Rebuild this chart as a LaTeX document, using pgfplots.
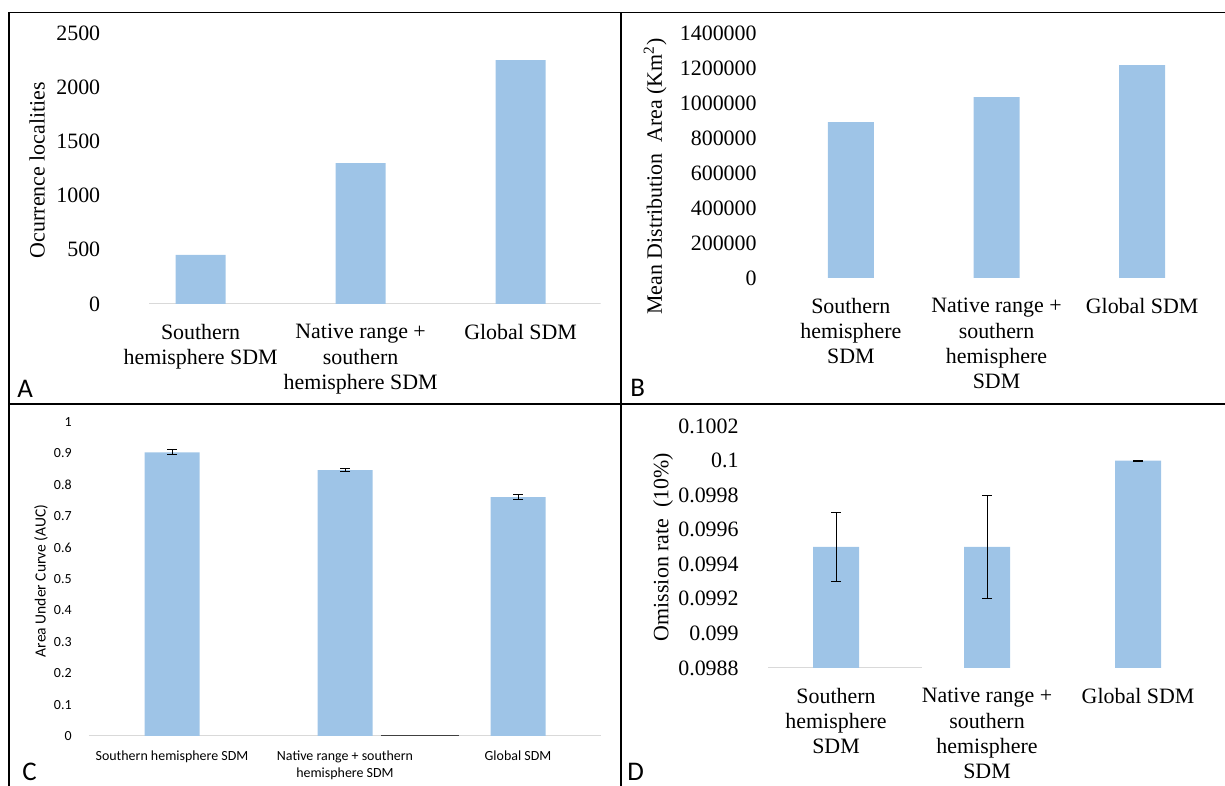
\documentclass[border=0pt]{standalone}
\usepackage{fontspec}
\setmainfont{Liberation Serif}
\newfontfamily\timesf{Liberation Serif}
\newfontfamily\calibri{Carlito}
\usepackage{pgfplots}
\pgfplotsset{compat=1.18}
\definecolor{barblue}{RGB}{158,196,231}
\definecolor{basegray}{RGB}{217,217,217}
\pgfplotsset{
  panel/.style={
    scale only axis,
    ybar,
    xmin=-0.5, xmax=2.5,
    xtick={0,1,2},
    axis line style={draw=none},
    major tick length=0pt,
    tick style={draw=none},
    scaled y ticks=false,
    /pgf/number format/assume math mode=true,
    /pgf/number format/1000 sep={},
    yticklabel style={/pgf/number format/fixed,/pgf/number format/precision=4},
    xticklabel style={align=center, anchor=north, inner sep=0pt},
    yticklabel style={anchor=east, inner sep=0pt},
  },
  times/.style={
    ticklabel style={font=\timesf\fontsize{11}{12.6}\selectfont},
    label style={font=\timesf\fontsize{11}{12.6}\selectfont},
    xticklabel style={yshift=-10bp},
  },
}
\begin{document}
\begin{tikzpicture}
\useasboundingbox (0,0) rectangle (612.5bp,393bp);
% frame
\draw[line width=0.75bp] (4.5bp,0) -- (4.5bp,386.85bp) -- (612.5bp,386.85bp);
\draw[line width=0.75bp] (310.5bp,0) -- (310.5bp,386.85bp);
\draw[line width=0.75bp] (4.5bp,191bp) -- (612.5bp,191bp);

% Panel A
\begin{axis}[panel, times,
  at={(60.3bp,241bp)}, anchor=south west,
  width=240bp, height=135.5bp,
  ymin=0, ymax=2500, ytick={0,500,1000,1500,2000,2500},
  yticklabels={0,500,1000,1500,2000,2500},
  bar width=25bp,
  yticklabel style={xshift=-10bp},
  ylabel={Ocurrence localities},
  ylabel style={at={(axis description cs:-0.174,0.494)}, anchor=center},
  xticklabels={{Southern\\hemisphere SDM},{Native range +\\southern\\hemisphere SDM},{Global SDM}},
]
\draw[basegray, line width=0.6bp] (axis cs:-0.32,0) -- (axis cs:2.5,0);
\addplot[fill=barblue, draw=none] coordinates {(0,452) (1,1300) (2,2250)};
\end{axis}

% Panel B
\begin{axis}[panel, times,
  at={(389bp,254bp)}, anchor=south west,
  width=218.5bp, height=122.5bp,
  ymin=0, ymax=1400000, ytick={0,200000,400000,600000,800000,1000000,1200000,1400000},
  yticklabels={0,200000,400000,600000,800000,1000000,1200000,1400000},
  bar width=23bp,
  yticklabel style={xshift=-10.5bp},
  ylabel={Mean Distribution\ \ Area (Km\textsuperscript{2})},
  ylabel style={at={(axis description cs:-0.281,0.414)}, anchor=center},
  xticklabels={{Southern\\hemisphere\\SDM},{Native range +\\southern\\hemisphere\\SDM},{Global SDM}},
]
\addplot[fill=barblue, draw=none] coordinates {(0,891000) (1,1034000) (2,1217000)};
\end{axis}

% Panel C
\begin{axis}[panel,
  at={(42.75bp,25bp)}, anchor=south west,
  width=259.5bp, height=157bp,
  ymin=0, ymax=1, ytick={0,0.1,0.2,0.3,0.4,0.5,0.6,0.7,0.8,0.9,1},
  yticklabels={0,0.1,0.2,0.3,0.4,0.5,0.6,0.7,0.8,0.9,1},
  bar width=27.5bp,
  ticklabel style={font=\calibri\fontsize{7}{8.5}\selectfont},
  label style={font=\calibri\fontsize{7.8}{9}\selectfont},
  yticklabel style={xshift=-6.75bp},
  xticklabel style={yshift=-7bp},
  ylabel={Area Under Curve (AUC)},
  ylabel style={at={(axis description cs:-0.0857,0.494)}, anchor=center},
  xticklabels={{Southern hemisphere SDM},{Native range + southern\\hemisphere SDM},{Global SDM}},
]
\draw[basegray, line width=0.6bp] (axis cs:-0.48,0) -- (axis cs:2.48,0);
\draw[black!75, line width=0.6bp] (axis cs:1.21,0) -- (axis cs:1.66,0);
\addplot[fill=barblue, draw=none,
  error bars/.cd, y dir=both, y explicit,
  error bar style={black, line width=0.5bp},
  error mark options={rotate=90, mark size=2.5bp, black, line width=0.5bp}]
  coordinates {(0,0.903) +- (0,0.008) (1,0.847) +- (0,0.004) (2,0.761) +- (0,0.007)};
\end{axis}

% Panel D
\begin{axis}[panel, times,
  at={(380.25bp,59bp)}, anchor=south west,
  width=226.5bp, height=121bp,
  ymin=0.0988, ymax=0.1002,
  ytick={0.0988,0.099,0.0992,0.0994,0.0996,0.0998,0.1,0.1002},
  yticklabels={0.0988,0.099,0.0992,0.0994,0.0996,0.0998,0.1,0.1002},
  bar width=23bp,
  yticklabel style={xshift=-10.75bp},
  ylabel={Omission rate\ \ (10\%)},
  ylabel style={at={(axis description cs:-0.215,0.5)}, anchor=center},
  xticklabels={{Southern\\hemisphere\\SDM},{Native range +\\southern\\hemisphere\\SDM},{Global SDM}},
]
\draw[basegray, line width=0.6bp] (axis cs:-0.45,0.0988) -- (axis cs:0.57,0.0988);
\addplot[fill=barblue, draw=none,
  error bars/.cd, y dir=both, y explicit,
  error bar style={black, line width=0.5bp},
  error mark options={rotate=90, mark size=2.5bp, black, line width=0.5bp}]
  coordinates {(0,0.0995) +- (0,0.0002) (1,0.0995) +- (0,0.0003) (2,0.1) +- (0,0.000003)};
\end{axis}

% panel letters
\node[anchor=base west, inner sep=0pt, font=\calibri\fontsize{13.5}{14}\selectfont] at (8.5bp,194bp) {A};
\node[anchor=base west, inner sep=0pt, font=\calibri\fontsize{13.5}{14}\selectfont] at (315bp,194.5bp) {B};
\node[anchor=base west, inner sep=0pt, font=\calibri\fontsize{13.5}{14}\selectfont] at (11bp,3bp) {C};
\node[anchor=base west, inner sep=0pt, font=\calibri\fontsize{13.5}{14}\selectfont] at (313.5bp,3bp) {D};
\end{tikzpicture}
\end{document}
